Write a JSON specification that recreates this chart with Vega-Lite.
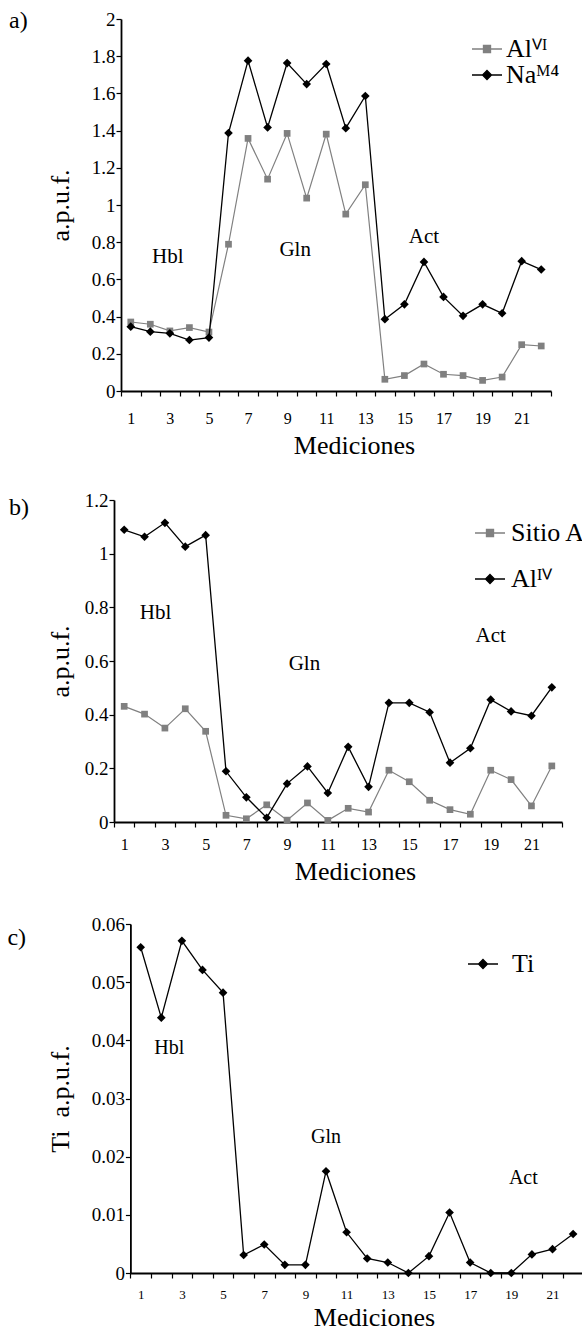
{
  "$schema": "https://vega.github.io/schema/vega-lite/v6.json",
  "padding": {"left": 7, "top": 9, "right": 0, "bottom": 0},
  "background": "white",
  "spacing": 33,
  "resolve": {"scale": {"color": "independent", "stroke": "independent", "shape": "independent"}},
  "config": {
    "font": "Liberation Serif",
    "view": {"stroke": null},
    "axis": {"domainColor": "black", "tickColor": "black", "labelColor": "black", "titleColor": "black", "grid": false, "labelFont": "Liberation Serif", "titleFont": "Liberation Serif", "titleFontWeight": "normal", "domainWidth": 1.8, "tickWidth": 1.2, "tickSize": 5},
    "legend": {"labelFont": "Liberation Serif", "labelFontSize": 26, "labelColor": "black", "symbolSize": 225, "symbolStrokeWidth": 1.3, "symbolOpacity": 1, "padding": 0},
    "title": {"font": "Liberation Serif", "fontWeight": "normal", "fontSize": 24, "color": "black", "anchor": "start", "frame": "bounds", "offset": 0}
  },
  "vconcat": [
    {
      "width": 437, "height": 372,
      "title": {"text": "a)", "dx": -38, "dy": 27},
      "data": {"values": [
        {"m":1,"v":0.371,"s":"Alⱽᴵ"},{"m":2,"v":0.359,"s":"Alⱽᴵ"},{"m":3,"v":0.323,"s":"Alⱽᴵ"},{"m":4,"v":0.341,"s":"Alⱽᴵ"},{"m":5,"v":0.317,"s":"Alⱽᴵ"},{"m":6,"v":0.789,"s":"Alⱽᴵ"},{"m":7,"v":1.358,"s":"Alⱽᴵ"},{"m":8,"v":1.139,"s":"Alⱽᴵ"},{"m":9,"v":1.385,"s":"Alⱽᴵ"},{"m":10,"v":1.037,"s":"Alⱽᴵ"},{"m":11,"v":1.381,"s":"Alⱽᴵ"},{"m":12,"v":0.951,"s":"Alⱽᴵ"},{"m":13,"v":1.109,"s":"Alⱽᴵ"},{"m":14,"v":0.063,"s":"Alⱽᴵ"},{"m":15,"v":0.083,"s":"Alⱽᴵ"},{"m":16,"v":0.145,"s":"Alⱽᴵ"},{"m":17,"v":0.090,"s":"Alⱽᴵ"},{"m":18,"v":0.083,"s":"Alⱽᴵ"},{"m":19,"v":0.057,"s":"Alⱽᴵ"},{"m":20,"v":0.075,"s":"Alⱽᴵ"},{"m":21,"v":0.249,"s":"Alⱽᴵ"},{"m":22,"v":0.242,"s":"Alⱽᴵ"},
        {"m":1,"v":0.346,"s":"Naᴹ⁴"},{"m":2,"v":0.319,"s":"Naᴹ⁴"},{"m":3,"v":0.310,"s":"Naᴹ⁴"},{"m":4,"v":0.274,"s":"Naᴹ⁴"},{"m":5,"v":0.287,"s":"Naᴹ⁴"},{"m":6,"v":1.387,"s":"Naᴹ⁴"},{"m":7,"v":1.776,"s":"Naᴹ⁴"},{"m":8,"v":1.417,"s":"Naᴹ⁴"},{"m":9,"v":1.763,"s":"Naᴹ⁴"},{"m":10,"v":1.650,"s":"Naᴹ⁴"},{"m":11,"v":1.758,"s":"Naᴹ⁴"},{"m":12,"v":1.413,"s":"Naᴹ⁴"},{"m":13,"v":1.586,"s":"Naᴹ⁴"},{"m":14,"v":0.386,"s":"Naᴹ⁴"},{"m":15,"v":0.466,"s":"Naᴹ⁴"},{"m":16,"v":0.694,"s":"Naᴹ⁴"},{"m":17,"v":0.506,"s":"Naᴹ⁴"},{"m":18,"v":0.404,"s":"Naᴹ⁴"},{"m":19,"v":0.466,"s":"Naᴹ⁴"},{"m":20,"v":0.418,"s":"Naᴹ⁴"},{"m":21,"v":0.698,"s":"Naᴹ⁴"},{"m":22,"v":0.653,"s":"Naᴹ⁴"}
      ]},
      "encoding": {
        "x": {"field": "m", "type": "ordinal", "scale": {"type": "band", "domain": [1,2,3,4,5,6,7,8,9,10,11,12,13,14,15,16,17,18,19,20,21,22], "range": [7, 437], "paddingInner": 0, "paddingOuter": 0},
              "axis": {"tickBand": "extent", "labelAngle": 0, "labelOverlap": false, "labelExpr": "datum.value % 2 == 1 ? datum.label : ''", "labelFont": "Liberation Serif", "titleFont": "Liberation Serif", "labelFontSize": 16, "labelPadding": 14, "title": "Mediciones", "titleFontSize": 26, "titlePadding": 6, "titleX": 240, "domainWidth": 2}},
        "y": {"field": "v", "type": "quantitative", "scale": {"domain": [0, 2], "nice": false},
              "axis": {"offset": -7, "values": [0,0.2,0.4,0.6,0.8,1,1.2,1.4,1.6,1.8,2], "format": ".1~f", "labelFont": "Liberation Serif", "titleFont": "Liberation Serif", "labelFontSize": 19, "labelPadding": 1, "minExtent": 30, "maxExtent": 30, "title": "a.p.u.f.", "titleFontSize": 26, "titlePadding": 18}}
      },
      "layer": [
        {"transform": [{"filter": {"field": "s", "equal": "Alⱽᴵ"}}], "mark": {"type": "line", "color": "#808080", "strokeWidth": 1.2}},
        {"transform": [{"filter": {"field": "s", "equal": "Alⱽᴵ"}}], "mark": {"type": "point", "shape": "square", "filled": true, "color": "#808080", "size": 45, "opacity": 1}},
        {"transform": [{"filter": {"field": "s", "equal": "Naᴹ⁴"}}], "mark": {"type": "line", "color": "#000000", "strokeWidth": 1.3}},
        {"transform": [{"filter": {"field": "s", "equal": "Naᴹ⁴"}}], "mark": {"type": "point", "shape": "diamond", "filled": true, "color": "#000000", "size": 75, "opacity": 1}},
        {"mark": {"type": "point", "filled": true, "opacity": 0},
         "encoding": {
           "color": {"field": "s", "type": "nominal", "scale": {"domain": ["Alⱽᴵ", "Naᴹ⁴"], "range": ["#808080", "#000000"]}, "legend": {"title": null, "orient": "none", "legendX": 360, "legendY": 17, "rowPadding": 0, "labelOffset": 6}},
           "stroke": {"field": "s", "type": "nominal", "scale": {"domain": ["Alⱽᴵ", "Naᴹ⁴"], "range": ["#808080", "#000000"]}, "legend": {"title": null, "orient": "none", "legendX": 360, "legendY": 17, "rowPadding": 0, "labelOffset": 6}},
           "shape": {"field": "s", "type": "nominal", "scale": {"domain": ["Alⱽᴵ", "Naᴹ⁴"], "range": ["M-2,0H2M-0.47,-0.47H0.47V0.47H-0.47Z", "M-2,0H2M0,-0.6L0.6,0L0,0.6L-0.6,0Z"]}, "legend": {"title": null, "orient": "none", "legendX": 360, "legendY": 17, "rowPadding": 0, "labelOffset": 6}}
         }},
        {"data": {"values": [{"t": "Hbl", "m": 3, "v": 0.72}]}, "mark": {"type": "text", "fontSize": 21, "font": "Liberation Serif", "color": "black", "dx": -2}, "encoding": {"text": {"field": "t"}}},
        {"data": {"values": [{"t": "Gln", "m": 9, "v": 0.76}]}, "mark": {"type": "text", "fontSize": 21, "font": "Liberation Serif", "color": "black", "dx": 8}, "encoding": {"text": {"field": "t"}}},
        {"data": {"values": [{"t": "Act", "m": 16, "v": 0.83}]}, "mark": {"type": "text", "fontSize": 21, "font": "Liberation Serif", "color": "black"}, "encoding": {"text": {"field": "t"}}}
      ]
    },
    {
      "spacing": 30,
      "resolve": {"scale": {"color": "independent", "stroke": "independent", "shape": "independent"}},
      "vconcat": [
        {
          "width": 448, "height": 322,
          "title": {"text": "b)", "dx": -38, "dy": 33},
          "data": {"values": [
            {"m":1,"v":0.431,"s":"Sitio A"},{"m":2,"v":0.402,"s":"Sitio A"},{"m":3,"v":0.350,"s":"Sitio A"},{"m":4,"v":0.422,"s":"Sitio A"},{"m":5,"v":0.338,"s":"Sitio A"},{"m":6,"v":0.025,"s":"Sitio A"},{"m":7,"v":0.012,"s":"Sitio A"},{"m":8,"v":0.064,"s":"Sitio A"},{"m":9,"v":0.007,"s":"Sitio A"},{"m":10,"v":0.071,"s":"Sitio A"},{"m":11,"v":0.006,"s":"Sitio A"},{"m":12,"v":0.051,"s":"Sitio A"},{"m":13,"v":0.037,"s":"Sitio A"},{"m":14,"v":0.193,"s":"Sitio A"},{"m":15,"v":0.150,"s":"Sitio A"},{"m":16,"v":0.081,"s":"Sitio A"},{"m":17,"v":0.046,"s":"Sitio A"},{"m":18,"v":0.029,"s":"Sitio A"},{"m":19,"v":0.193,"s":"Sitio A"},{"m":20,"v":0.158,"s":"Sitio A"},{"m":21,"v":0.060,"s":"Sitio A"},{"m":22,"v":0.209,"s":"Sitio A"},
            {"m":1,"v":1.089,"s":"Alᴵⱽ"},{"m":2,"v":1.063,"s":"Alᴵⱽ"},{"m":3,"v":1.115,"s":"Alᴵⱽ"},{"m":4,"v":1.026,"s":"Alᴵⱽ"},{"m":5,"v":1.069,"s":"Alᴵⱽ"},{"m":6,"v":0.189,"s":"Alᴵⱽ"},{"m":7,"v":0.092,"s":"Alᴵⱽ"},{"m":8,"v":0.016,"s":"Alᴵⱽ"},{"m":9,"v":0.143,"s":"Alᴵⱽ"},{"m":10,"v":0.207,"s":"Alᴵⱽ"},{"m":11,"v":0.108,"s":"Alᴵⱽ"},{"m":12,"v":0.280,"s":"Alᴵⱽ"},{"m":13,"v":0.131,"s":"Alᴵⱽ"},{"m":14,"v":0.444,"s":"Alᴵⱽ"},{"m":15,"v":0.444,"s":"Alᴵⱽ"},{"m":16,"v":0.409,"s":"Alᴵⱽ"},{"m":17,"v":0.221,"s":"Alᴵⱽ"},{"m":18,"v":0.275,"s":"Alᴵⱽ"},{"m":19,"v":0.456,"s":"Alᴵⱽ"},{"m":20,"v":0.412,"s":"Alᴵⱽ"},{"m":21,"v":0.396,"s":"Alᴵⱽ"},{"m":22,"v":0.502,"s":"Alᴵⱽ"}
          ]},
          "encoding": {
            "x": {"field": "m", "type": "ordinal", "scale": {"type": "band", "domain": [1,2,3,4,5,6,7,8,9,10,11,12,13,14,15,16,17,18,19,20,21,22], "range": [0, 448], "paddingInner": 0, "paddingOuter": 0},
                  "axis": {"tickBand": "extent", "labelAngle": 0, "labelOverlap": false, "labelExpr": "datum.value % 2 == 1 ? datum.label : ''", "labelFont": "Liberation Serif", "titleFont": "Liberation Serif", "labelFontSize": 16, "labelPadding": 9, "title": "Mediciones", "titleFontSize": 26, "titlePadding": 6.5, "titleX": 241, "domainWidth": 2}},
            "y": {"field": "v", "type": "quantitative", "scale": {"domain": [0, 1.2], "nice": false},
                  "axis": {"values": [0,0.2,0.4,0.6,0.8,1,1.2], "format": ".1~f", "labelFont": "Liberation Serif", "titleFont": "Liberation Serif", "labelFontSize": 19, "labelPadding": 1, "minExtent": 30, "maxExtent": 30, "title": "a.p.u.f.", "titleFontSize": 26, "titlePadding": 11}}
          },
          "layer": [
            {"transform": [{"filter": {"field": "s", "equal": "Sitio A"}}], "mark": {"type": "line", "color": "#808080", "strokeWidth": 1.2}},
            {"transform": [{"filter": {"field": "s", "equal": "Sitio A"}}], "mark": {"type": "point", "shape": "square", "filled": true, "color": "#808080", "size": 45, "opacity": 1}},
            {"transform": [{"filter": {"field": "s", "equal": "Alᴵⱽ"}}], "mark": {"type": "line", "color": "#000000", "strokeWidth": 1.3}},
            {"transform": [{"filter": {"field": "s", "equal": "Alᴵⱽ"}}], "mark": {"type": "point", "shape": "diamond", "filled": true, "color": "#000000", "size": 75, "opacity": 1}},
            {"mark": {"type": "point", "filled": true, "opacity": 0},
             "encoding": {
               "color": {"field": "s", "type": "nominal", "scale": {"domain": ["Sitio A", "Alᴵⱽ"], "range": ["#808080", "#000000"]}, "legend": {"title": null, "orient": "none", "legendX": 363, "legendY": 20, "rowPadding": 20, "labelOffset": 8}},
               "stroke": {"field": "s", "type": "nominal", "scale": {"domain": ["Sitio A", "Alᴵⱽ"], "range": ["#808080", "#000000"]}, "legend": {"title": null, "orient": "none", "legendX": 363, "legendY": 20, "rowPadding": 20, "labelOffset": 8}},
               "shape": {"field": "s", "type": "nominal", "scale": {"domain": ["Sitio A", "Alᴵⱽ"], "range": ["M-2,0H2M-0.47,-0.47H0.47V0.47H-0.47Z", "M-2,0H2M0,-0.6L0.6,0L0,0.6L-0.6,0Z"]}, "legend": {"title": null, "orient": "none", "legendX": 363, "legendY": 20, "rowPadding": 20, "labelOffset": 8}}
             }},
            {"data": {"values": [{"t": "Hbl", "m": 2, "v": 0.78}]}, "mark": {"type": "text", "fontSize": 21, "font": "Liberation Serif", "color": "black", "dx": 11}, "encoding": {"text": {"field": "t"}}},
            {"data": {"values": [{"t": "Gln", "m": 10, "v": 0.59}]}, "mark": {"type": "text", "fontSize": 21, "font": "Liberation Serif", "color": "black", "dx": -3}, "encoding": {"text": {"field": "t"}}},
            {"data": {"values": [{"t": "Act", "m": 19, "v": 0.695}]}, "mark": {"type": "text", "fontSize": 21, "font": "Liberation Serif", "color": "black"}, "encoding": {"text": {"field": "t"}}}
          ]
        },
        {
          "width": 470, "height": 349,
          "title": {"text": "c)", "dx": -40, "dy": 39},
          "data": {"values": [
            {"m":1,"v":0.0560,"s":"Ti"},{"m":2,"v":0.0439,"s":"Ti"},{"m":3,"v":0.0571,"s":"Ti"},{"m":4,"v":0.0521,"s":"Ti"},{"m":5,"v":0.0482,"s":"Ti"},{"m":6,"v":0.0031,"s":"Ti"},{"m":7,"v":0.0049,"s":"Ti"},{"m":8,"v":0.0014,"s":"Ti"},{"m":9,"v":0.0014,"s":"Ti"},{"m":10,"v":0.0175,"s":"Ti"},{"m":11,"v":0.0070,"s":"Ti"},{"m":12,"v":0.0025,"s":"Ti"},{"m":13,"v":0.0018,"s":"Ti"},{"m":14,"v":0.0,"s":"Ti"},{"m":15,"v":0.0029,"s":"Ti"},{"m":16,"v":0.0104,"s":"Ti"},{"m":17,"v":0.0018,"s":"Ti"},{"m":18,"v":0.0,"s":"Ti"},{"m":19,"v":0.0,"s":"Ti"},{"m":20,"v":0.0032,"s":"Ti"},{"m":21,"v":0.0041,"s":"Ti"},{"m":22,"v":0.0067,"s":"Ti"}
          ]},
          "encoding": {
            "x": {"field": "m", "type": "ordinal", "scale": {"type": "band", "domain": [1,2,3,4,5,6,7,8,9,10,11,12,13,14,15,16,17,18,19,20,21,22], "range": [16.4, 469.4], "paddingInner": 0, "paddingOuter": 0},
                  "axis": {"tickBand": "extent", "labelAngle": 0, "labelOverlap": false, "labelExpr": "datum.value % 2 == 1 ? datum.label : ''", "labelFont": "Liberation Serif", "titleFont": "Liberation Serif", "labelFontSize": 13, "labelPadding": 10.5, "title": "Mediciones", "titleFontSize": 26, "titlePadding": 2.5, "titleX": 260, "domainWidth": 2}},
            "y": {"field": "v", "type": "quantitative", "scale": {"domain": [0, 0.06], "nice": false},
                  "axis": {"offset": -16.4, "values": [0,0.01,0.02,0.03,0.04,0.05,0.06], "format": ".2~f", "labelFont": "Liberation Serif", "titleFont": "Liberation Serif", "labelFontSize": 19, "labelPadding": 1, "minExtent": 38, "maxExtent": 38, "title": "Ti\u00a0 a.p.u.f.", "titleFontSize": 26, "titlePadding": 19}}
          },
          "layer": [
            {"mark": {"type": "line", "color": "#000000", "strokeWidth": 1.3}},
            {"mark": {"type": "point", "shape": "diamond", "filled": true, "color": "#000000", "size": 75, "opacity": 1}},
            {"mark": {"type": "point", "filled": true, "opacity": 0},
             "encoding": {
               "color": {"field": "s", "type": "nominal", "scale": {"domain": ["Ti"], "range": ["#000000"]}, "legend": {"title": null, "orient": "none", "legendX": 356, "legendY": 27, "rowPadding": 0, "labelOffset": 16}},
               "stroke": {"field": "s", "type": "nominal", "scale": {"domain": ["Ti"], "range": ["#000000"]}, "legend": {"title": null, "orient": "none", "legendX": 356, "legendY": 27, "rowPadding": 0, "labelOffset": 16}},
               "shape": {"field": "s", "type": "nominal", "scale": {"domain": ["Ti"], "range": ["M-2,0H2M0,-0.6L0.6,0L0,0.6L-0.6,0Z"]}, "legend": {"title": null, "orient": "none", "legendX": 356, "legendY": 27, "rowPadding": 0, "labelOffset": 16}}
             }},
            {"data": {"values": [{"t": "Hbl", "m": 2, "v": 0.0387}]}, "mark": {"type": "text", "fontSize": 20, "font": "Liberation Serif", "color": "black", "dx": 8}, "encoding": {"text": {"field": "t"}}},
            {"data": {"values": [{"t": "Gln", "m": 10, "v": 0.0234}]}, "mark": {"type": "text", "fontSize": 20, "font": "Liberation Serif", "color": "black"}, "encoding": {"text": {"field": "t"}}},
            {"data": {"values": [{"t": "Act", "m": 19, "v": 0.0163}]}, "mark": {"type": "text", "fontSize": 20, "font": "Liberation Serif", "color": "black", "dx": 12}, "encoding": {"text": {"field": "t"}}}
          ]
        }
      ]
    }
  ]
}
